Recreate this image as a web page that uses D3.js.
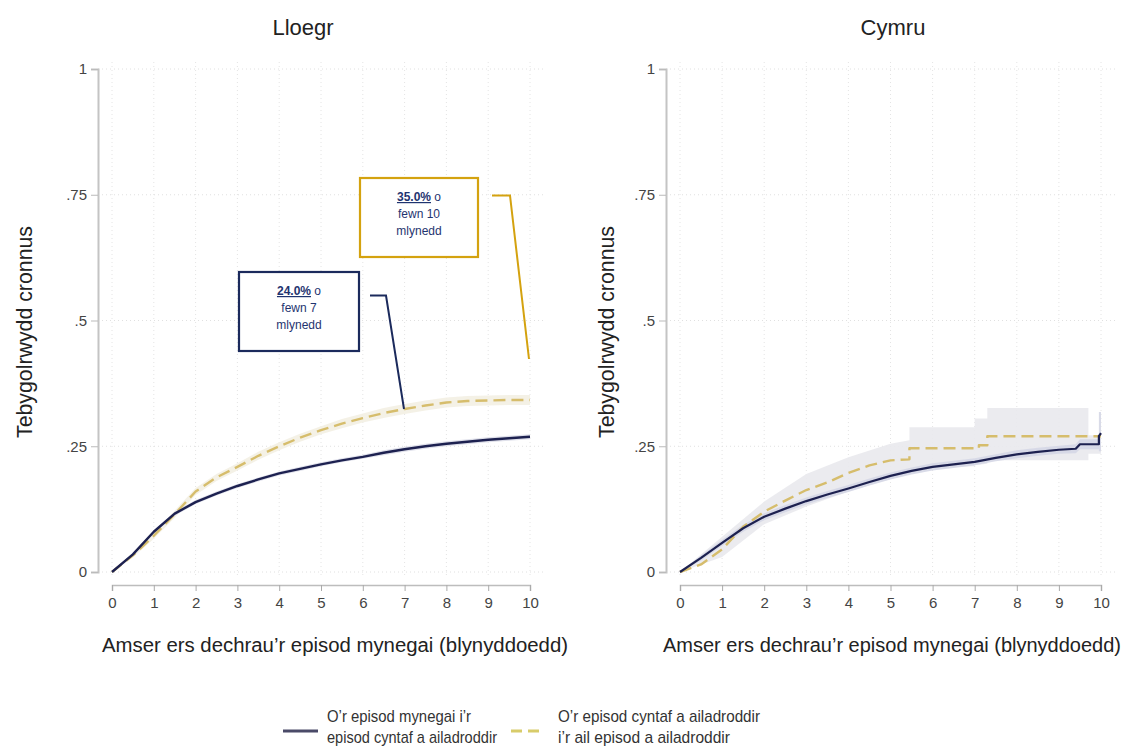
<!DOCTYPE html>
<html><head><meta charset="utf-8">
<script src="https://cdn.jsdelivr.net/npm/d3@7"></script>
<style>
html,body{margin:0;padding:0;background:#fff;}
svg{display:block;}
</style></head>
<body>
<svg id="c" width="1132" height="747"></svg>
<script>
// ---------- DATA ----------
const panelTitles = ["Lloegr", "Cymru"];
const xTicks = [0,1,2,3,4,5,6,7,8,9,10];
const yTicks = [0,0.25,0.5,0.75,1];
const yTickLabels = ["0",".25",".5",".75","1"];
const xTitle = "Amser ers dechrau\u2019r episod mynegai (blynyddoedd)";
const yTitle = "Tebygolrwydd cronnus";
const legendLabels = [["O\u2019r episod mynegai i\u2019r","episod cyntaf a ailadroddir"],["O\u2019r episod cyntaf a ailadroddir","i\u2019r ail episod a ailadroddir"]];

// Lloegr (England)
const enT = [0,0.5,1,1.5,2,2.5,3,3.5,4,4.5,5,5.5,6,6.5,7,7.5,8,8.5,9,9.5,10];
const enFirst = [0,0.035,0.08,0.116,0.139,0.156,0.171,0.184,0.196,0.205,0.214,0.222,0.229,0.237,0.244,0.250,0.255,0.259,0.263,0.266,0.269];
const enFirstLo = [0,0.032,0.077,0.112,0.135,0.152,0.167,0.180,0.192,0.201,0.210,0.218,0.225,0.232,0.239,0.245,0.250,0.254,0.258,0.261,0.264];
const enFirstHi = [0,0.038,0.083,0.120,0.143,0.160,0.175,0.188,0.200,0.209,0.218,0.226,0.233,0.242,0.249,0.255,0.260,0.264,0.268,0.271,0.274];
const enSecond = [0,0.033,0.072,0.115,0.160,0.188,0.209,0.231,0.250,0.267,0.282,0.295,0.306,0.316,0.324,0.331,0.337,0.340,0.341,0.342,0.342];
const enSecondLo = [0,0.029,0.066,0.108,0.153,0.181,0.202,0.223,0.242,0.259,0.274,0.286,0.297,0.306,0.314,0.321,0.327,0.330,0.331,0.332,0.332];
const enSecondHi = [0,0.037,0.078,0.122,0.167,0.195,0.216,0.239,0.258,0.275,0.290,0.304,0.315,0.326,0.334,0.341,0.347,0.350,0.351,0.352,0.352];

// Cymru (Wales)
const cyFirstT = [0,0.5,1,1.5,2,2.5,3,3.5,4,4.5,5,5.5,6,6.5,7,7.5,8,8.5,9,9.4,9.5,9.95,9.95,10];
const cyFirst = [0,0.028,0.058,0.087,0.110,0.126,0.141,0.154,0.166,0.179,0.191,0.201,0.209,0.214,0.219,0.227,0.234,0.239,0.243,0.245,0.254,0.254,0.270,0.276];
const cyFirstLo = [0,0.023,0.052,0.080,0.103,0.119,0.134,0.147,0.159,0.172,0.184,0.194,0.202,0.207,0.212,0.220,0.226,0.231,0.235,0.236,0.244,0.244,0.240,0.240];
const cyFirstHi = [0,0.033,0.064,0.094,0.117,0.133,0.148,0.161,0.173,0.186,0.198,0.208,0.216,0.221,0.226,0.234,0.242,0.247,0.251,0.254,0.264,0.264,0.318,0.318];
const cySecondT = [0,0.5,1,1.5,2,2.5,3,3.5,4,4.5,5,5.45,5.45,7.0,7.1,7.1,7.3,7.3,10];
const cySecond = [0,0.015,0.045,0.090,0.120,0.142,0.163,0.178,0.197,0.212,0.222,0.224,0.246,0.246,0.246,0.252,0.252,0.270,0.270];
const cyBandT = [0,1,2,3,4,5,5.45,5.45,7.0,7.0,7.3,7.3,9.7,9.7,10];
const cyBandHi = [0,0.070,0.140,0.195,0.228,0.255,0.262,0.288,0.288,0.305,0.305,0.326,0.326,0.272,0.272];
const cyBandLo = [0,0.030,0.095,0.130,0.160,0.185,0.195,0.205,0.210,0.212,0.215,0.222,0.222,0.235,0.235];

// Annotations (Lloegr)
const annoValues = ["24.0%", "35.0%"];
const annoRest = [["fewn 7","mlynedd"],["fewn 10","mlynedd"]];

// ---------- DRAW ----------
const svg = d3.select("#c");
const navy = "#1d2150", gold = "#d6bd6c", boxGold = "#d4a20f", boxNavy = "#1b2a5c";
const fontMain = "'Liberation Sans Narrow','Arial Narrow','Liberation Sans',Arial,sans-serif";
const fontReg = "'Liberation Sans',Arial,sans-serif";

const panels = [
  {title: panelTitles[0], x0: 112, x1: 530, axisX: 98, titleX: 303, yTitleX: 25, xTitleX: 335, xTitleW: 466,
   bands: [{t: enT, lo: enSecondLo, hi: enSecondHi, fill: "#f3f0e3"}, {t: enT, lo: enFirstLo, hi: enFirstHi, fill: "#dcdde8"}],
   lines: [{t: enT, v: enSecond, color: gold, dash: "12,6", w: 2.4}, {t: enT, v: enFirst, color: navy, dash: null, w: 2.4}]},
  {title: panelTitles[1], x0: 680, x1: 1101, axisX: 666, titleX: 893, yTitleX: 607, xTitleX: 892, xTitleW: 458,
   bands: [{t: cyBandT, lo: cyBandLo, hi: cyBandHi, fill: "#e9e9ed"}, {t: cyFirstT, lo: cyFirstLo, hi: cyFirstHi, fill: "#d5d7e6"}],
   lines: [{t: cySecondT, v: cySecond, color: gold, dash: "12,6", w: 2.4}, {t: cyFirstT, v: cyFirst, color: navy, dash: null, w: 2.2}]}
];

const y = d3.scaleLinear().domain([0,1]).range([572,69]);

panels.forEach((p, pi) => {
  const x = d3.scaleLinear().domain([0,10]).range([p.x0, p.x1]);
  const g = svg.append("g");

  // grid
  g.selectAll(".vg").data(xTicks).join("line")
    .attr("x1", d => x(d)).attr("x2", d => x(d)).attr("y1", 62).attr("y2", 578)
    .attr("stroke", "#e4e4e4").attr("stroke-width", 1).attr("stroke-dasharray", "1,3");
  g.selectAll(".hg").data(yTicks).join("line")
    .attr("x1", p.axisX).attr("x2", p.x1 + 15).attr("y1", d => y(d)).attr("y2", d => y(d))
    .attr("stroke", "#e0e0e0").attr("stroke-width", 1).attr("stroke-dasharray", "1,3");

  // y axis
  const ya = d3.axisLeft(y).tickValues(yTicks).tickFormat((d,i) => yTickLabels[i]).tickSize(7).tickPadding(4);
  const yg = g.append("g").attr("transform", `translate(${p.axisX},0)`).call(ya);
  yg.select(".domain").attr("stroke", "#c4c4c4").attr("stroke-width", 2);
  yg.selectAll(".tick line").attr("stroke", "#bbb");
  yg.selectAll(".tick text").attr("fill", "#444").style("font-family", fontMain).style("font-size", "15px");

  // x axis
  const xa = d3.axisBottom(x).tickValues(xTicks).tickFormat(d3.format("d")).tickSize(6).tickPadding(6);
  const xg = g.append("g").attr("transform", `translate(0,585)`).call(xa);
  xg.select(".domain").attr("stroke", "#bdbdbd").attr("stroke-width", 1.5);
  xg.selectAll(".tick line").attr("stroke", "#aaa");
  xg.selectAll(".tick text").attr("fill", "#444").style("font-family", fontMain).style("font-size", "15px");

  // bands
  p.bands.forEach(b => {
    const idx = d3.range(b.t.length);
    const area = d3.area().x(i => x(b.t[i])).y0(i => y(b.lo[i])).y1(i => y(b.hi[i]));
    g.append("path").attr("d", area(idx)).attr("fill", b.fill).attr("opacity", 0.9);
  });
  // lines
  p.lines.forEach(l => {
    const idx = d3.range(l.t.length);
    const line = d3.line().x(i => x(l.t[i])).y(i => y(l.v[i])).curve(d3.curveLinear);
    g.append("path").attr("d", line(idx)).attr("fill", "none").attr("stroke", l.color)
      .attr("stroke-width", l.w).attr("stroke-dasharray", l.dash).attr("stroke-linejoin", "round");
  });

  // titles
  g.append("text").attr("x", p.titleX).attr("y", 35).attr("text-anchor", "middle")
    .style("font-family", fontMain).style("font-size", "22px").attr("fill", "#222").text(p.title);
  g.append("text").attr("x", p.xTitleX).attr("y", 652).attr("text-anchor", "middle")
    .attr("textLength", p.xTitleW).attr("lengthAdjust", "spacingAndGlyphs")
    .style("font-family", fontMain).style("font-size", "20px").attr("fill", "#222").text(xTitle);
  g.append("text").attr("transform", `translate(${p.yTitleX + 7},332) rotate(-90)`).attr("text-anchor", "middle")
    .attr("textLength", 212).attr("lengthAdjust", "spacingAndGlyphs")
    .style("font-family", fontMain).style("font-size", "22px").attr("fill", "#222").text(yTitle);

  if (pi === 0) {
    // annotation boxes
    const annos = [
      {bx: 239, by: 272, bw: 120, bh: 79, color: boxNavy, val: annoValues[0], rest: annoRest[0],
       conn: [[370, 295.5], [386, 295.5], [404, 409]]},
      {bx: 360, by: 178, bw: 118, bh: 79, color: boxGold, val: annoValues[1], rest: annoRest[1],
       conn: [[492, 195.5], [510, 195.5], [529, 359]]}
    ];
    annos.forEach(a => {
      g.append("rect").attr("x", a.bx).attr("y", a.by).attr("width", a.bw).attr("height", a.bh)
        .attr("fill", "#fff").attr("stroke", a.color).attr("stroke-width", 2.2);
      const cx = a.bx + a.bw / 2;
      const t = g.append("text").attr("x", cx).attr("y", a.by + 23).attr("text-anchor", "middle")
        .style("font-family", fontReg).style("font-size", "12px").attr("fill", "#1f3470");
      t.append("tspan").style("font-weight", "bold").style("text-decoration", "underline").text(a.val);
      t.append("tspan").text(" o");
      a.rest.forEach((r, ri) => {
        g.append("text").attr("x", cx).attr("y", a.by + 40 + ri * 17).attr("text-anchor", "middle")
          .style("font-family", fontReg).style("font-size", "12px").attr("fill", "#1f3470").text(r);
      });
      g.append("path").attr("d", d3.line()(a.conn)).attr("fill", "none").attr("stroke", a.color).attr("stroke-width", 2);
    });
  }
});

// legend
const lg = svg.append("g");
lg.append("line").attr("x1", 283).attr("x2", 318).attr("y1", 731).attr("y2", 731)
  .attr("stroke", "#4a4a68").attr("stroke-width", 3);
lg.append("line").attr("x1", 511).attr("x2", 542).attr("y1", 731).attr("y2", 731)
  .attr("stroke", "#d8cc6a").attr("stroke-width", 3).attr("stroke-dasharray", "11,6");
const legendWidths = [[144, 170], [202, 172]];
[[327, legendLabels[0], legendWidths[0]], [558, legendLabels[1], legendWidths[1]]].forEach(([lx, lines, ws]) => {
  lines.forEach((s, i) => {
    lg.append("text").attr("x", lx).attr("y", 722 + i * 21)
      .attr("textLength", ws[i]).attr("lengthAdjust", "spacingAndGlyphs")
      .style("font-family", fontMain).style("font-size", "17px").attr("fill", "#333").text(s);
  });
});
</script>
</body></html>
